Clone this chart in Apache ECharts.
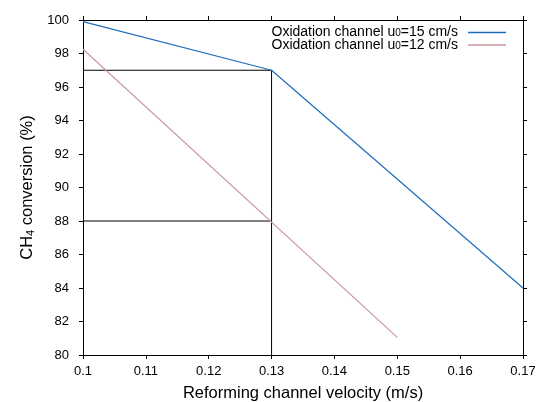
<!DOCTYPE html>
<html><head><meta charset="utf-8">
<script src="https://cdn.jsdelivr.net/npm/echarts@6/dist/echarts.min.js"></script>
<style>html,body{margin:0;padding:0;background:#fff}#c{width:536px;height:402px}</style>
</head><body><div id="c"></div>
<script>
const xA = [0.10, 0.13, 0.17];
const yA = [99.9, 97.0, 84.0];
const xB = [0.10, 0.15];
const yB = [98.25, 81.05];
const refX1 = [0.10, 0.13, 0.13];
const refY1 = [97, 97, 80];
const refX2 = [0.10, 0.13];
const refY2 = [88, 88];
const nameA = 'Oxidation channel u0=15 cm/s';
const nameB = 'Oxidation channel u0=12 cm/s';

const pair = (xs, ys) => xs.map((x, i) => [x, ys[i]]);
const font = 'Liberation Sans, Arial, sans-serif';
const chart = echarts.init(document.getElementById('c'));
const tick = {show: true, inside: false, length: 4, lineStyle: {color: '#000', width: 1}};
const axLine = {show: true, lineStyle: {color: '#000', width: 1}};
chart.setOption({
  animation: false,
  grid: {left: 83, right: 13, top: 20, bottom: 47, outerBoundsMode: 'none', containLabel: false},
  legend: {
    data: [nameA, nameB],
    right: 30, top: 25.4, padding: 0, orient: 'vertical', align: 'right',
    itemGap: -1.4, itemWidth: 38, itemHeight: 1.5, icon: 'rect',
    formatter: n => {
      const m = n.match(/^(.*u)0(=.*)$/);
      return '{a|' + m[1] + '}{s|0}{a|' + m[2] + '}';
    },
    textStyle: {
      fontFamily: font, fontSize: 14, color: '#000', padding: [0, 5, 0, 0], lineHeight: 12.6,
      rich: {
        a: {fontFamily: font, fontSize: 14, color: '#000', lineHeight: 12.6},
        s: {fontFamily: font, fontSize: 10, color: '#000', lineHeight: 4, verticalAlign: 'bottom'}
      }
    }
  },
  xAxis: [{
    type: 'value', min: 0.1, max: 0.17, interval: 0.01,
    axisLine: axLine, axisTick: tick, splitLine: {show: false},
    axisLabel: {color: '#000', fontFamily: font, fontSize: 13, margin: 10,
      formatter: v => String(parseFloat(v.toFixed(2)))},
    name: 'Reforming channel velocity (m/s)', nameLocation: 'middle', nameGap: 30,
    nameTextStyle: {color: '#000', fontFamily: font, fontSize: 16.5}
  }, {
    type: 'value', position: 'top', min: 0.1, max: 0.17, interval: 0.01,
    axisLine: axLine, axisTick: tick, axisLabel: {show: false}, splitLine: {show: false}
  }],
  yAxis: [{
    type: 'value', min: 80, max: 100, interval: 2,
    axisLine: axLine, axisTick: tick, splitLine: {show: false},
    axisLabel: {color: '#000', fontFamily: font, fontSize: 13, margin: 14},
    name: '{a|CH}{s|4}{a| conversion (%)}', nameLocation: 'middle', nameGap: 42,
    nameTextStyle: {color: '#000', fontFamily: font, fontSize: 16.5,
      rich: {
        a: {fontFamily: font, fontSize: 16.5, color: '#000', lineHeight: 18},
        s: {fontFamily: font, fontSize: 11, color: '#000', lineHeight: 4, verticalAlign: 'bottom'}
      }}
  }, {
    type: 'value', position: 'right', min: 80, max: 100, interval: 2,
    axisLine: axLine, axisTick: tick, axisLabel: {show: false}, splitLine: {show: false}
  }],
  series: [
    {name: nameA, type: 'line', data: pair(xA, yA), symbol: 'none',
     lineStyle: {color: '#1f6cbf', width: 1.2}, itemStyle: {color: '#1f6cbf'}, z: 3},
    {name: nameB, type: 'line', data: pair(xB, yB), symbol: 'none',
     lineStyle: {color: '#c9999b', width: 1.2}, itemStyle: {color: '#c9999b'}, z: 3},
    {name: 'ref1', type: 'line', data: pair(refX1, refY1), symbol: 'none',
     lineStyle: {color: '#000', width: 1}, z: 2},
    {name: 'ref2', type: 'line', data: pair(refX2, refY2), symbol: 'none',
     lineStyle: {color: '#000', width: 1}, z: 2}
  ]
});
</script></body></html>
